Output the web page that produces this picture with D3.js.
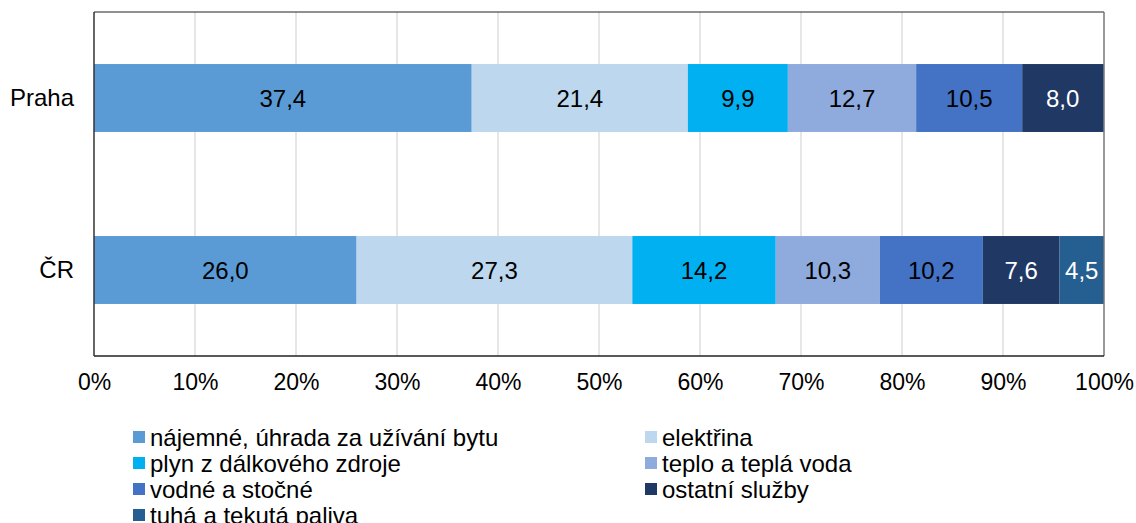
<!DOCTYPE html>
<html>
<head>
<meta charset="utf-8">
<script src="https://d3js.org/d3.v7.min.js"></script>
<style>
  body { margin: 0; background: #fff; }
  svg { display: block; font-family: "Liberation Sans", Arial, sans-serif; }
</style>
</head>
<body>
<div id="chart"></div>
<script>
// categories (rows) and series, top to bottom as drawn
var regions = ["Praha", "ČR"];
var seriesNames = [
    "nájemné, úhrada za užívání bytu",
    "elektřina",
    "plyn z dálkového zdroje",
    "teplo a teplá voda",
    "vodné a stočné",
    "ostatní služby",
    "tuhá a tekutá paliva"
];
var seriesColors = ["#5B9BD5", "#BDD7EE", "#00B0F0", "#8FAADC", "#4472C4", "#203864", "#255E91"];
var labelColors  = ["#000", "#000", "#000", "#000", "#000", "#fff", "#fff"];

// values per region, in series order (%)
var prahaValues = [37.4, 21.4, 9.9, 12.7, 10.5, 8.0, 0.1];
var crValues    = [26.0, 27.3, 14.2, 10.3, 10.2, 7.6, 4.5];

var xTicks = [0, 10, 20, 30, 40, 50, 60, 70, 80, 90, 100];

var width = 1136, height = 523;
var margin = {top: 12, right: 32, bottom: 167, left: 94};
var plotW = width - margin.left - margin.right;
var plotH = height - margin.top - margin.bottom;

var svg = d3.select("#chart").append("svg")
    .attr("width", width)
    .attr("height", height);

var g = svg.append("g")
    .attr("transform", "translate(" + margin.left + "," + margin.top + ")");

var x = d3.scaleLinear().domain([0, 100]).range([0, plotW]);
var y = d3.scaleBand().domain(regions).range([0, plotH])
    .paddingInner(0.605).paddingOuter(0.3025);

/////////////
/// Grid ///
/////////////

g.selectAll("line.grid")
    .data(xTicks.slice(1, -1))
    .enter().append("line")
    .attr("class", "grid")
    .attr("x1", function (d) { return x(d); })
    .attr("x2", function (d) { return x(d); })
    .attr("y1", 0)
    .attr("y2", plotH)
    .attr("stroke", "#D9D9D9")
    .attr("stroke-width", 1.3);

////////////
/// Bars ///
////////////

var rows = [
    {region: "Praha", values: prahaValues},
    {region: "ČR", values: crValues}
];

rows.forEach(function (row) {
    var cum = 0;
    var segs = row.values.map(function (v, i) {
        var s = {i: i, v: v, x0: cum, x1: cum + v};
        cum += v;
        return s;
    });
    var rg = g.append("g");
    rg.selectAll("rect")
        .data(segs)
        .enter().append("rect")
        .attr("x", function (d) { return x(d.x0); })
        .attr("width", function (d) { return Math.max(0, Math.min(x(d.x1), plotW) - x(d.x0)); })
        .attr("y", y(row.region))
        .attr("height", y.bandwidth())
        .attr("fill", function (d) { return seriesColors[d.i]; });

    rg.selectAll("text")
        .data(segs.filter(function (d) { return d.v >= 1; }))
        .enter().append("text")
        .attr("x", function (d) { return (x(d.x0) + Math.min(x(d.x1), plotW)) / 2; })
        .attr("y", y(row.region) + y.bandwidth() / 2)
        .attr("dy", "0.36em")
        .attr("text-anchor", "middle")
        .attr("font-size", "24px")
        .attr("fill", function (d) { return labelColors[d.i]; })
        .text(function (d) { return d3.format(".1f")(d.v).replace(".", ","); });
});

// plot frame
g.append("line").attr("x1", 0).attr("x2", plotW).attr("y1", 0).attr("y2", 0)
    .attr("stroke", "#222").attr("stroke-width", 1);
g.append("line").attr("x1", plotW).attr("x2", plotW).attr("y1", 0).attr("y2", plotH)
    .attr("stroke", "#777").attr("stroke-width", 1.5);
g.append("line").attr("x1", 0).attr("x2", 0).attr("y1", 0).attr("y2", plotH)
    .attr("stroke", "#333").attr("stroke-width", 1.5);
g.append("line").attr("x1", 0).attr("x2", plotW).attr("y1", plotH).attr("y2", plotH)
    .attr("stroke", "#222").attr("stroke-width", 1.5);

////////////
/// Axes ///
////////////

var xAxis = g.append("g")
    .attr("transform", "translate(0," + plotH + ")")
    .call(d3.axisBottom(x).tickValues(xTicks).tickSize(0).tickPadding(18)
        .tickFormat(function (d) { return d + "%"; }));
xAxis.select(".domain").remove();
xAxis.selectAll("text")
    .attr("font-size", "23px")
    .attr("font-family", "Liberation Sans, Arial, sans-serif")
    .attr("fill", "#000");

var yAxis = g.append("g")
    .call(d3.axisLeft(y).tickSize(0).tickPadding(20));
yAxis.select(".domain").remove();
yAxis.selectAll("text")
    .attr("font-size", "24px")
    .attr("font-family", "Liberation Sans, Arial, sans-serif")
    .attr("fill", "#000");

//////////////
/// Legend ///
//////////////

var legend = svg.append("g");
var colX = [133, 645];
var rowY0 = 437, rowStep = 26;

var items = legend.selectAll("g")
    .data(seriesNames)
    .enter().append("g")
    .attr("transform", function (d, i) {
        return "translate(" + colX[i % 2] + "," + (rowY0 + Math.floor(i / 2) * rowStep) + ")";
    });

items.append("rect")
    .attr("x", 0)
    .attr("y", -6)
    .attr("width", 12)
    .attr("height", 12)
    .attr("fill", function (d, i) { return seriesColors[i]; });

items.append("text")
    .attr("x", 17)
    .attr("y", 0)
    .attr("dy", "0.36em")
    .attr("font-size", "24px")
    .attr("fill", "#000")
    .text(function (d) { return d; });
</script>
</body>
</html>
